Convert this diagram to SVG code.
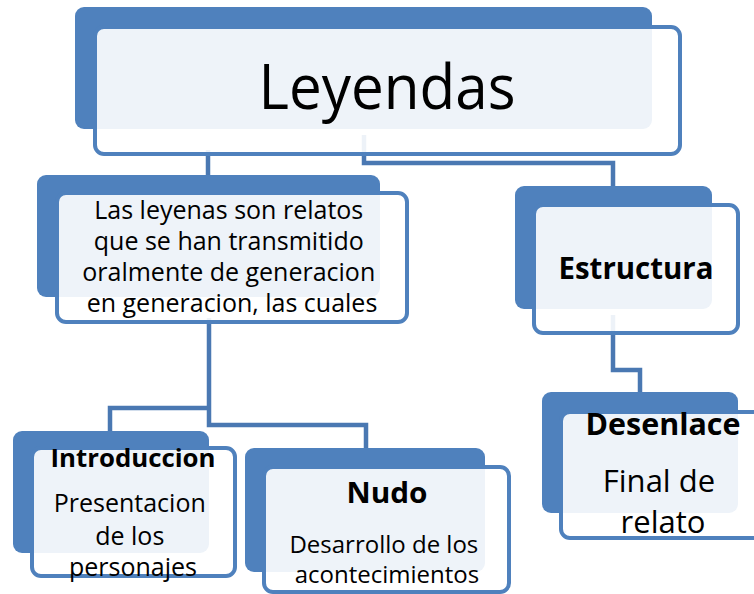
<svg xmlns="http://www.w3.org/2000/svg" width="754" height="594" viewBox="0 0 754 594">
<style>
.back{fill:#4F81BD;}
.front{fill:#FFFFFF;fill-opacity:0.9;stroke:#4F81BD;stroke-width:4;}
.conn{fill:none;stroke:#4A78B2;stroke-width:4.5;stroke-linejoin:miter;}
text{font-family:"Open Sans","Liberation Sans",sans-serif;fill:#000;text-anchor:middle;}
.b{font-weight:bold;}
</style>
<rect width="754" height="594" fill="#FFFFFF"/>
<g id="connectors">
<path class="conn" d="M208,150 V177"/>
<path class="conn" d="M364,135 V163 H613 V188"/>
<path class="conn" d="M209,318 V425 H366 V450"/>
<path class="conn" d="M209,408 H110 V434"/>
<path class="conn" d="M613,315 V370 H640 V394"/>
</g>
<g id="node-leyendas">
<rect class="back" x="75" y="7" width="577" height="122" rx="9"/>
<rect class="front" x="95" y="27" width="585" height="127" rx="9"/>
<text x="387" y="109" font-size="63" textLength="257" lengthAdjust="spacingAndGlyphs">Leyendas</text>
</g>
<g id="node-definicion">
<rect class="back" x="37" y="175" width="343" height="122" rx="9"/>
<rect class="front" x="57" y="193" width="350" height="129" rx="9"/>
<text font-size="25">
<tspan x="232" y="219">Las leyenas son relatos</tspan>
<tspan x="232" y="250">que se han transmitido</tspan>
<tspan x="232" y="281">oralmente de generacion</tspan>
<tspan x="232" y="312">en generacion, las cuales</tspan>
</text>
</g>
<g id="node-estructura">
<rect class="back" x="515" y="186" width="197" height="123" rx="9"/>
<rect class="front" x="534" y="205" width="204" height="128" rx="9"/>
<text class="b" x="636" y="279" font-size="30" textLength="155" lengthAdjust="spacingAndGlyphs">Estructura</text>
</g>
<g id="node-introduccion">
<rect class="back" x="13" y="431" width="196" height="122" rx="9"/>
<rect class="front" x="32" y="448" width="203" height="128" rx="9"/>
<text class="b" x="133" y="467" font-size="25" textLength="165" lengthAdjust="spacingAndGlyphs">Introduccion</text>
<text font-size="25">
<tspan x="133" y="512">Presentacion</tspan>
<tspan x="133" y="545">de los</tspan>
<tspan x="133" y="576">personajes</tspan>
</text>
</g>
<g id="node-nudo">
<rect class="back" x="245" y="448" width="240" height="124" rx="9"/>
<rect class="front" x="264" y="467" width="245" height="125" rx="9"/>
<text class="b" x="387" y="503" font-size="29" textLength="81" lengthAdjust="spacingAndGlyphs">Nudo</text>
<text font-size="24">
<tspan x="387" y="553">Desarrollo de los</tspan>
<tspan x="387" y="583">acontecimientos</tspan>
</text>
</g>
<g id="node-desenlace">
<rect class="back" x="542" y="392" width="196" height="121" rx="9"/>
<rect class="front" x="561" y="412" width="205" height="126" rx="9"/>
<text class="b" x="663" y="435" font-size="30" textLength="155" lengthAdjust="spacingAndGlyphs">Desenlace</text>
<text font-size="31">
<tspan x="663" y="492">Final de</tspan>
<tspan x="663" y="533">relato</tspan>
</text>
</g>
</svg>
